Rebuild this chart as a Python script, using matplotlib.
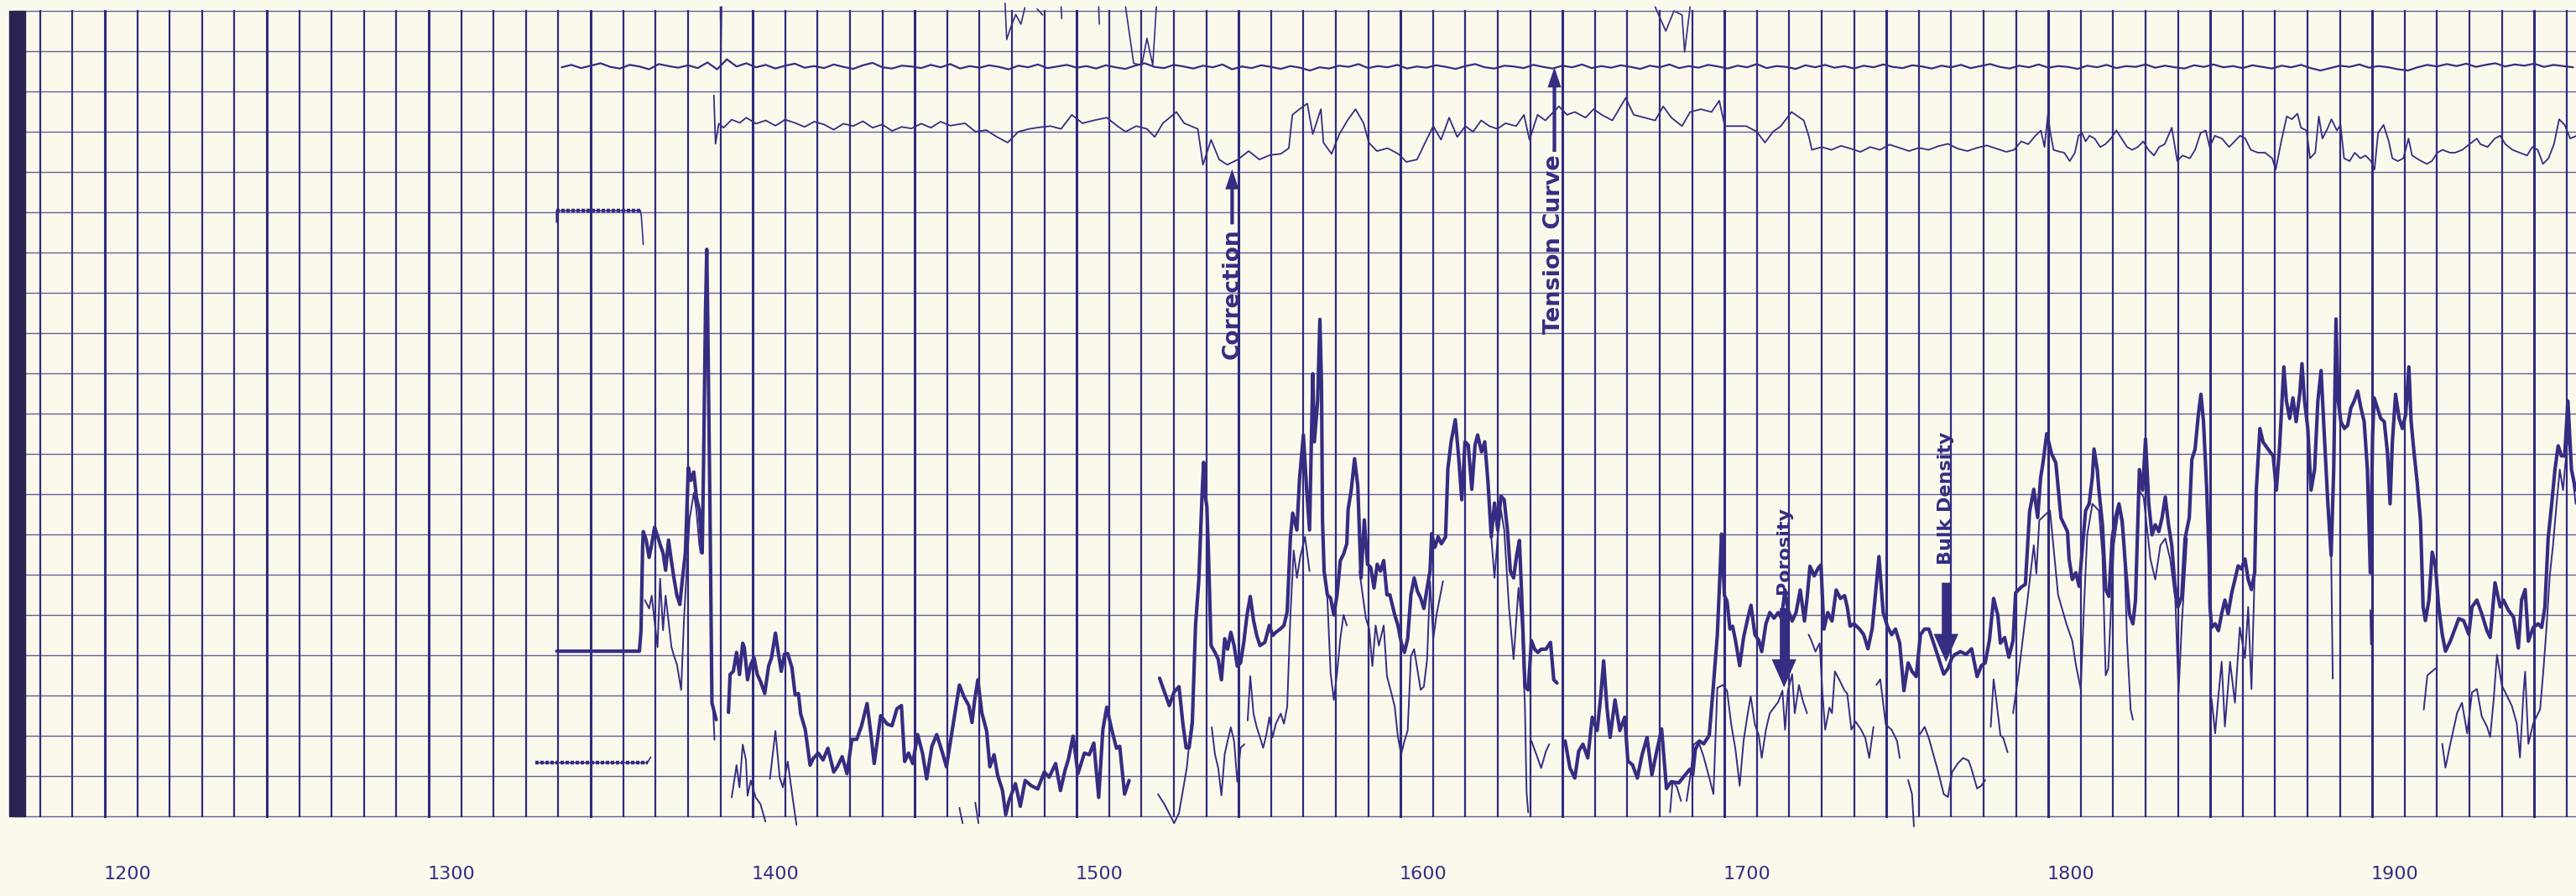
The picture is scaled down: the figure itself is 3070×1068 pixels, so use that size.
import numpy as np
import matplotlib
matplotlib.use('agg')
import matplotlib.pyplot as plt

# log chart: depth along x, 20 chart divisions up the y axis
PAPER = '#fbf9ec'
INK = '#352d82'
GRID = '#2f2b7d'

depth_labels = [1200, 1300, 1400, 1500, 1600, 1700, 1800, 1900]

# tension curve, one reading every 3 depth units from 1341
tension_start = 1341
tension_step = 3
tension = [
    18.60, 18.66, 18.58, 18.64, 18.70, 18.61, 18.57, 18.66, 18.62, 18.55, 18.68, 18.63, 18.59,
    18.65, 18.58, 18.72, 18.55, 18.80, 18.62, 18.70, 18.60, 18.66, 18.57, 18.64, 18.69, 18.59,
    18.63, 18.58, 18.67, 18.61, 18.56, 18.65, 18.71, 18.60, 18.57, 18.64, 18.62, 18.58, 18.66,
    18.60, 18.68, 18.57, 18.63, 18.59, 18.65, 18.61, 18.55, 18.64, 18.60, 18.67, 18.58, 18.62,
    18.66, 18.59, 18.63, 18.57, 18.65, 18.60, 18.56, 18.64, 18.70, 18.61, 18.58, 18.66, 18.62,
    18.57, 18.64, 18.60, 18.67, 18.55, 18.62, 18.58, 18.65, 18.61, 18.56, 18.63, 18.59, 18.52,
    18.60, 18.57, 18.64, 18.61, 18.68, 18.58, 18.63, 18.60, 18.66, 18.57, 18.62, 18.59, 18.65,
    18.61, 18.56, 18.63, 18.68, 18.60, 18.57, 18.64, 18.62, 18.58, 18.66, 18.61, 18.57, 18.64,
    18.60, 18.67, 18.58, 18.63, 18.59, 18.65, 18.61, 18.56, 18.64, 18.60, 18.67, 18.58, 18.63,
    18.59, 18.66, 18.62, 18.57, 18.64, 18.60, 18.68, 18.58, 18.63, 18.61, 18.56, 18.65, 18.60,
    18.66, 18.59, 18.63, 18.57, 18.64, 18.60, 18.67, 18.61, 18.58, 18.65, 18.62, 18.57, 18.64,
    18.60, 18.66, 18.58, 18.63, 18.68, 18.61, 18.57, 18.64, 18.60, 18.67, 18.59, 18.63, 18.61,
    18.56, 18.64, 18.60, 18.66, 18.58, 18.63, 18.61, 18.67, 18.59, 18.64, 18.60, 18.57, 18.65,
    18.61, 18.67, 18.60, 18.63, 18.58, 18.65, 18.61, 18.57, 18.64, 18.60, 18.66, 18.58, 18.52,
    18.58, 18.64, 18.61, 18.67, 18.59, 18.63, 18.60, 18.55, 18.52, 18.60, 18.66, 18.62, 18.68,
    18.63, 18.69, 18.61, 18.66, 18.70, 18.62, 18.67, 18.64, 18.69, 18.61, 18.66, 18.63, 18.60,
]

# correction curve (depth, division)
correction = [
    (1388.0, 17.9), (1388.5, 16.7), (1389.5, 17.2), (1391, 17.1), (1393.5, 17.3), (1396, 17.22),
    (1398, 17.35), (1401, 17.2), (1404, 17.28), (1407, 17.15), (1410, 17.3), (1413, 17.22),
    (1416, 17.12), (1419, 17.25), (1422, 17.18), (1425, 17.05), (1428, 17.2), (1431, 17.14),
    (1434, 17.26), (1437, 17.1), (1440, 17.18), (1443, 17.02), (1446, 17.12), (1449, 17.08),
    (1452, 17.2), (1455, 17.1), (1458, 17.25), (1461, 17.15),
    (1465.5, 17.21), (1468.8, 17.0), (1472.1, 17.04), (1475.4, 16.87), (1478.7, 16.73),
    (1482.0, 17.0), (1485.3, 17.07), (1488.6, 17.11), (1491.9, 17.14), (1495.2, 17.07),
    (1498.5, 17.42), (1501.8, 17.21), (1505.2, 17.28), (1509.3, 17.35), (1512.6, 17.14),
    (1515.1, 17.0), (1518.4, 17.14), (1521.7, 17.07), (1524.1, 16.87), (1526.6, 17.21),
    (1530.8, 17.49), (1533.2, 17.21), (1537.4, 17.07), (1539.0, 16.18), (1541.5, 16.8),
    (1544.0, 16.31), (1546.5, 16.18), (1549.8, 16.31), (1553.1, 16.52), (1556.4, 16.31),
    (1559.7, 16.42), (1563.0, 16.45), (1565.5, 16.59), (1566.6, 17.42), (1568.8, 17.56),
    (1571.2, 17.7), (1572.9, 16.94), (1575.4, 17.56), (1576.2, 16.73), (1578.7, 16.45),
    (1581.1, 16.94), (1583.6, 17.28), (1586.1, 17.56), (1588.6, 17.21), (1590.2, 16.73),
    (1592.7, 16.52), (1596.0, 16.59), (1599.3, 16.45), (1601.8, 16.25), (1605.1, 16.31),
    (1607.6, 16.73), (1610.1, 17.14), (1612.5, 16.8), (1615.0, 17.35), (1617.5, 16.87),
    (1620.0, 17.14), (1622.4, 17.0), (1624.9, 17.28), (1627.4, 17.14), (1629.9, 17.07),
    (1632.4, 17.21), (1635.7, 17.14), (1638.1, 17.42), (1639.8, 16.8), (1642.3, 17.42),
    (1644.7, 17.28), (1647.2, 17.49), (1648.9, 17.63), (1651.4, 17.42), (1653.8, 17.49),
    (1657.1, 17.35), (1659.6, 17.56), (1662.1, 17.42), (1665.4, 17.28), (1669.5, 17.84),
    (1672.0, 17.42), (1675.3, 17.35), (1678.6, 17.28), (1681.1, 17.63), (1683.6, 17.35),
    (1686.9, 17.14), (1689.4, 17.49), (1692.7, 17.56), (1696.0, 17.49), (1698.4, 17.77),
    (1700.1, 17.14), (1703.4, 17.14), (1706.7, 17.14), (1710.0, 17.0), (1712.5, 16.73),
    (1715.0, 17.0), (1717.4, 17.14), (1720.7, 17.49), (1724.5, 17.28), (1726, 16.9),
    (1727, 16.55), (1730, 16.62), (1733, 16.55), (1736, 16.65), (1739, 16.58), (1742, 16.5),
    (1745, 16.62), (1748, 16.55), (1751, 16.68), (1754, 16.6), (1757, 16.52), (1760, 16.6),
    (1763, 16.55), (1766, 16.64), (1769, 16.7), (1772, 16.58), (1775, 16.52), (1778, 16.6),
    (1781, 16.66), (1784, 16.58), (1787, 16.5),
    (1789.4, 16.55), (1791.6, 16.76), (1793.8, 16.69), (1796.0, 16.9), (1797.7, 17.03),
    (1798.8, 16.62), (1799.9, 17.45), (1800.5, 17.03), (1801.6, 16.55), (1803.2, 16.51),
    (1804.9, 16.48), (1806.6, 16.27), (1808.2, 16.48), (1809.3, 16.9), (1810.4, 16.97),
    (1811.5, 16.76), (1812.7, 16.9), (1814.3, 16.83), (1816.0, 16.62), (1817.6, 16.69),
    (1819.3, 16.83), (1821.0, 17.03), (1822.6, 16.83), (1824.3, 16.62), (1825.9, 16.55),
    (1827.6, 16.62), (1829.3, 16.76), (1830.9, 16.55), (1832.6, 16.41), (1834.2, 16.62),
    (1835.9, 16.69), (1838.1, 17.1), (1839.8, 16.27), (1841.4, 16.41), (1843.7, 16.34),
    (1845.3, 16.55), (1847.0, 16.97), (1848.6, 17.03), (1849.8, 16.62), (1851.4, 16.9),
    (1853.6, 16.83), (1855.8, 16.62), (1857.5, 16.76), (1859.2, 16.9), (1860.8, 16.83),
    (1862.5, 16.55), (1864.7, 16.48), (1866.9, 16.48), (1869.1, 16.34), (1870.2, 16.06),
    (1871.9, 16.76), (1873.6, 17.38), (1875.2, 17.31), (1876.9, 17.45), (1878.0, 17.1),
    (1879.7, 17.03), (1880.8, 16.34), (1882.4, 16.48), (1883.5, 17.38), (1884.6, 16.83),
    (1886.3, 17.1), (1887.4, 17.31), (1889.1, 17.03), (1890.2, 17.17), (1891.3, 16.34),
    (1893.0, 16.27), (1894.6, 16.48), (1896.3, 16.34), (1897.9, 16.41), (1899.6, 16.27),
    (1900.7, 16.06), (1901.8, 16.97), (1903.5, 17.17), (1905.1, 16.76), (1906.2, 16.34),
    (1907.9, 16.27), (1909.6, 16.34), (1911.2, 16.83), (1912.3, 16.41), (1914.5, 16.3),
    (1916.8, 16.2), (1918.4, 16.27), (1920.1, 16.48), (1921.7, 16.55), (1924.0, 16.48),
    (1925.6, 16.48), (1927.8, 16.55), (1930.0, 16.69), (1932.3, 16.83), (1933.4, 16.69),
    (1935.6, 16.62), (1937.8, 16.83), (1939.5, 16.9), (1941.1, 16.69), (1943.3, 16.55),
    (1945.5, 16.48), (1947.8, 16.41), (1949.4, 16.62), (1951.1, 16.55), (1952.7, 16.2),
    (1954.4, 16.34), (1956.1, 16.69), (1957.7, 17.31), (1959.4, 17.17), (1961.1, 16.83),
    (1963.1, 16.9),
]

# pen running off the top of the chart
offscale = [
    (1390.0, 20.1), (1390.2, 18.96), (1390.4, 20.1), (None, None),
    (1477.9, 20.19), (1478.4, 19.29), (1479.5, 19.56), (1481.2, 19.91), (1482.8, 19.67),
    (1484.0, 20.08), (None, None),
    (1487.8, 20.05), (1489.5, 19.9), (None, None),
    (1495.2, 20.1), (1495.4, 19.81), (None, None),
    (1506.8, 20.1), (1507.0, 19.67), (None, None),
    (1515.1, 20.1), (1517.6, 18.7), (1520.1, 18.65), (1521.7, 19.32), (1523.5, 18.65),
    (1524.6, 20.1), (None, None),
    (1678.6, 20.1), (1681.9, 19.5), (1684.4, 20.0), (1686.9, 19.9), (1687.7, 18.98),
    (1689.4, 20.1),
]

# calibration steps at the head of the log
cal_upper = [(1339.4, 14.75), (1339.4, 15.04), (1365.3, 15.04), (1365.6, 14.9), (1366.2, 14.2)]
cal_lower = [(1333.0, 1.33), (1367.5, 1.33), (1368.5, 1.47)]

bulk_density = [
    (1339.5, 4.1), (1365.0, 4.1), (1365.5, 4.6), (1366.0, 6.7),
    (1366.2, 7.07), (1367.1, 6.86), (1368.0, 6.43), (1368.8, 6.75), (1369.7, 7.18), (1370.6, 6.96),
    (1371.4, 6.75), (1372.3, 6.54), (1373.1, 6.11), (1374.0, 6.86), (1374.9, 6.33), (1375.7, 5.9),
    (1376.6, 5.48), (1377.5, 5.26), (1378.3, 5.9), (1379.2, 6.54), (1380.1, 8.66), (1380.9, 8.34),
    (1381.8, 8.55), (1382.6, 7.92), (1383.5, 7.6), (1384.4, 6.54), (1384.8, 8.66), (1385.4, 12.49),
    (1385.8, 14.08), (1386.1, 12.38), (1386.8, 7.6), (1387.4, 2.82), (1388.7, 2.4), (None, None),
    (1392.5, 2.58), (1393.0, 3.52), (1394.0, 3.6), (1395.0, 4.07), (1395.9, 3.52), (1396.9, 4.3),
    (1397.4, 4.19), (1398.4, 3.39), (1399.4, 3.77), (1400.4, 3.94), (1401.4, 3.52), (1402.4, 3.35),
    (1403.7, 3.05), (1404.9, 3.73), (1405.8, 3.94), (1407.0, 4.55), (1407.8, 4.11), (1408.8, 3.6),
    (1409.8, 4.03), (1410.8, 4.04), (1412.1, 3.69), (1413.1, 3.01), (1414.1, 3.05), (1414.8, 2.54),
    (1416.2, 2.16), (1417.7, 1.27), (1418.7, 1.44), (1420.2, 1.57), (1421.7, 1.4), (1423.2, 1.69),
    (1425.0, 1.1), (1426.1, 1.23), (1427.6, 1.48), (1429.1, 1.06), (1430.6, 1.91), (1432.1, 1.91),
    (1433.6, 2.25), (1435.3, 2.8), (1436.5, 2.03), (1437.5, 1.31), (1439.5, 2.5), (1441.5, 2.29),
    (1443.0, 2.25), (1444.5, 2.67), (1445.9, 2.75), (1446.9, 1.36), (1448.1, 1.57), (1449.4, 1.31),
    (1450.9, 2.03), (1452.4, 1.57), (1453.7, 0.93), (1455.3, 1.74), (1456.8, 2.03), (1458.6, 1.57),
    (1459.8, 1.23), (1461.3, 1.99), (1463.8, 3.26), (1465.2, 2.97), (1466.7, 2.75), (1467.7, 2.33),
    (1468.5, 2.88), (1469.5, 3.39), (1470.7, 2.58), (1472.2, 2.12), (1473.2, 1.23), (1474.5, 1.53),
    (1475.6, 1.02), (1477.1, 0.64), (1478.1, 0.04), (1479.1, 0.38), (1481.1, 0.81), (1482.6, 0.25),
    (1484.1, 0.89), (1486.0, 0.76), (1488.0, 0.68), (1490.0, 1.1), (1491.5, 0.97), (1493.5, 1.31),
    (1495.0, 0.64), (1496.4, 1.14), (1497.4, 1.4), (1498.9, 1.99), (1500.4, 1.06), (1502.4, 1.57),
    (1503.9, 1.53), (1505.3, 1.82), (1506.8, 0.47), (1508.1, 2.16), (1509.3, 2.71), (1510.8, 2.16),
    (1512.3, 1.69), (1513.3, 1.74), (1514.8, 0.55), (1516.2, 0.89), (None, None),
    (1525.6, 3.43), (1527.1, 3.09), (1528.6, 2.75), (1530.1, 3.09), (1531.6, 3.22),
    (1532.8, 2.3), (1533.8, 1.7), (1534.7, 1.7), (1535.7, 2.3), (1536.7, 4.74), (1537.7, 5.84),
    (1538.7, 7.95), (1539.2, 8.79), (1539.7, 7.95), (1540.2, 7.7), (1540.7, 6.51), (1541.5, 4.24),
    (1542.7, 4.07), (1543.7, 3.9), (1544.7, 3.39), (1545.7, 4.41), (1546.6, 4.15), (1547.6, 4.57),
    (1548.6, 4.24), (1549.6, 3.73), (1550.6, 3.81), (1551.6, 4.32), (1552.6, 5.0), (1553.6, 5.46),
    (1554.6, 4.87), (1555.6, 4.49), (1556.6, 4.24), (1558.1, 4.32), (1559.5, 4.74), (1560.5, 4.49),
    (1561.5, 4.57), (1563.0, 4.66), (1564.0, 4.74), (1565.0, 5.08), (1566.0, 6.94), (1566.7, 7.53),
    (1568.0, 7.11), (1568.8, 8.37), (1570.0, 9.47), (1571.0, 8.12), (1571.9, 7.11), (1572.9, 10.99),
    (1573.4, 9.3), (1574.4, 10.31), (1575.1, 12.34), (1575.6, 10.73), (1575.9, 7.36), (1576.4, 6.09),
    (1577.4, 5.5), (1578.4, 5.42), (1579.4, 5.0), (1580.4, 5.5), (1581.4, 6.35), (1582.4, 6.51),
    (1583.4, 6.77), (1583.8, 7.61), (1584.8, 8.12), (1585.8, 8.88), (1586.8, 8.2), (1587.8, 5.92),
    (1588.8, 7.36), (1589.8, 6.26), (1590.8, 6.18), (1591.8, 5.67), (1592.8, 6.26), (1593.8, 6.09),
    (1594.8, 6.35), (1595.8, 5.5), (1596.7, 5.5), (1598.2, 5.0), (1599.2, 4.74), (1600.2, 4.32),
    (1601.2, 4.07), (1602.2, 4.41), (1603.2, 5.5), (1604.2, 5.92), (1605.2, 5.59), (1606.2, 5.42),
    (1607.2, 5.16), (1608.2, 5.67), (1609.1, 6.09), (1609.6, 7.02), (1610.6, 6.68), (1611.6, 6.94),
    (1612.6, 6.77), (1613.9, 6.94), (1614.6, 8.62), (1615.6, 9.3), (1616.9, 9.85), (1617.9, 8.96),
    (1618.9, 7.86), (1619.9, 9.3), (1620.9, 9.22), (1622.0, 8.12), (1623.0, 9.22), (1623.8, 9.47),
    (1625.0, 9.05), (1626.0, 9.3), (1627.0, 8.29), (1628.0, 6.94), (1629.0, 7.78), (1630.0, 7.11),
    (1631.0, 7.95), (1632.0, 7.86), (1633.0, 7.11), (1633.9, 6.09), (1634.9, 5.92), (1635.9, 6.51),
    (1636.7, 6.85), (1637.4, 5.5), (1638.4, 3.22), (1639.4, 3.14), (1640.4, 4.36), (1641.4, 4.15),
    (1642.4, 4.07), (1643.4, 4.15), (1644.9, 4.15), (1646.3, 4.32), (1647.3, 3.39), (1648.3, 3.31),
    (None, None),
    (1650.8, 1.87), (1652.3, 1.2), (1653.8, 0.95), (1655.0, 1.62), (1656.3, 1.79), (1657.8, 1.45),
    (1659.2, 2.46), (1660.7, 2.13), (1661.7, 2.89), (1662.7, 3.86), (1663.7, 2.72), (1664.7, 1.96),
    (1666.2, 2.89), (1667.7, 2.13), (1669.2, 2.46), (1670.2, 1.37), (1671.6, 1.28), (1673.1, 0.95),
    (1674.6, 1.54), (1676.1, 1.96), (1677.6, 1.03), (1679.1, 1.62), (1680.6, 2.17), (1682.1, 0.69),
    (1683.6, 0.86), (1685.9, 0.83), (1689.3, 1.17), (1690.2, 1.03), (1691.0, 1.66), (1692.3, 1.87),
    (1693.6, 1.8), (1695.3, 2.01), (1696.6, 3.26), (1697.8, 4.51), (1698.7, 6.17), (1699.1, 7.01),
    (1700.0, 5.48), (1700.8, 5.34), (1701.7, 4.65), (1702.5, 4.72), (1703.4, 4.37), (1704.7, 3.74),
    (1705.9, 4.44), (1707.2, 4.92), (1708.2, 5.24), (1709.4, 4.51), (1710.6, 4.37), (1711.5, 4.09),
    (1712.8, 4.78), (1714.0, 5.06), (1715.3, 4.92), (1716.6, 5.06), (1717.6, 4.92), (1718.7, 5.62),
    (1719.6, 5.13), (1720.9, 4.85), (1722.1, 5.06), (1723.4, 5.62), (1724.7, 4.85), (1725.5, 5.41),
    (1726.4, 6.21), (1727.7, 5.97), (1729.0, 6.17), (1729.8, 6.24), (1730.7, 4.65), (1731.9, 5.06),
    (1733.2, 4.85), (1734.5, 5.62), (1735.8, 5.41), (1737.1, 5.48), (1737.9, 5.2), (1738.8, 4.72),
    (1740.0, 4.78), (1741.7, 4.65), (1743.0, 4.51), (1744.3, 4.16), (1745.6, 4.65), (1746.4, 5.34),
    (1747.7, 6.45), (1749.0, 5.06), (1750.3, 4.72), (1751.6, 4.51), (1752.8, 4.65), (1754.1, 4.3),
    (1755.4, 3.12), (1756.7, 3.81), (1757.9, 3.6), (1759.2, 3.47), (1760.5, 4.51), (1761.8, 4.65),
    (1763.1, 4.65), (1764.3, 4.37), (1766.0, 3.95), (1767.7, 3.53), (1769.0, 3.67), (1770.3, 3.95),
    (1771.2, 4.02), (1772.9, 4.09), (1774.6, 4.02), (1776.3, 4.16), (1778.0, 3.47), (1779.3, 3.74),
    (1780.5, 3.81), (1781.8, 4.37), (1783.1, 5.41), (1784.4, 4.99), (1785.2, 4.3), (1786.5, 4.44),
    (1787.8, 3.95), (1789.1, 4.37), (1789.9, 5.55), (1791.6, 5.69), (1792.9, 5.76), (1794.2, 7.56),
    (1795.5, 8.12), (1796.7, 7.42), (1797.6, 8.4), (1798.4, 8.81), (1799.5, 9.5), (1801.0, 9.0),
    (1802.3, 8.78), (1803.1, 8.1), (1803.9, 7.41), (1804.9, 7.24), (1805.9, 7.07), (1806.4, 6.39),
    (1807.4, 5.88), (1808.5, 6.05), (1809.5, 5.71), (1811.5, 7.59), (1812.6, 7.76), (1813.6, 8.44),
    (1814.1, 9.12), (1815.1, 8.61), (1815.6, 8.1), (1816.7, 7.24), (1817.7, 5.63), (1818.7, 5.46),
    (1819.7, 6.9), (1820.7, 7.41), (1821.8, 7.76), (1822.8, 7.33), (1823.8, 6.22), (1825.0, 5.03),
    (1826.1, 4.78), (1826.9, 5.37), (1828.1, 8.61), (1829.1, 8.1), (1830.0, 9.37), (1831.0, 7.76),
    (1832.0, 6.99), (1833.0, 7.24), (1834.1, 7.07), (1835.1, 7.41), (1836.1, 7.93), (1837.1, 7.24),
    (1838.1, 6.73), (1839.0, 5.8), (1840.0, 5.2), (1841.2, 5.46), (1842.2, 6.9), (1843.5, 7.41),
    (1844.3, 8.86), (1845.3, 9.12), (1846.3, 9.97), (1847.1, 10.48), (1847.9, 9.8), (1848.9, 8.1),
    (1849.6, 6.48), (1849.9, 5.2), (1850.4, 4.69), (1851.5, 4.78), (1852.5, 4.61), (1853.5, 5.03),
    (1854.5, 5.37), (1855.5, 5.03), (1856.6, 5.54), (1857.6, 5.88), (1858.6, 6.22), (1859.6, 6.14),
    (1860.7, 6.39), (1861.7, 5.88), (1862.7, 5.63), (1863.7, 6.05), (1864.2, 8.1), (1865.3, 9.63),
    (1866.3, 9.29), (1867.8, 9.12), (1869.4, 8.95), (1870.4, 8.1), (1871.4, 9.2), (1872.7, 11.16),
    (1873.5, 10.31), (1874.5, 9.88), (1875.5, 10.39), (1876.5, 9.8), (1877.6, 10.48), (1878.3, 11.24),
    (1879.1, 10.31), (1880.1, 9.63), (1881.1, 8.1), (1882.2, 8.61), (1883.2, 10.31), (1884.2, 11.07),
    (1885.2, 9.46), (1886.3, 7.76), (1887.3, 6.48), (1888.1, 8.61), (1888.8, 12.35), (1889.5, 10.31),
    (1890.3, 9.8), (1891.4, 9.63), (1892.4, 9.71), (1893.4, 10.14), (1894.4, 10.31), (1895.5, 10.56),
    (1896.5, 10.14), (1897.5, 9.8), (1898.5, 8.61), (1899.4, 6.05), (1900.1, 9.46), (1900.6, 10.39),
    (1901.6, 10.14), (1902.6, 9.88), (1903.7, 9.8), (1904.7, 9.03), (1905.5, 7.76), (1906.2, 9.29),
    (1907.2, 10.48), (1908.3, 9.88), (1909.3, 9.63), (1910.3, 9.97), (1911.3, 11.16), (1912.0, 9.8),
    (1912.9, 9.03), (1913.9, 8.27), (1914.9, 7.33), (1915.7, 5.2), (1916.4, 4.86), (1917.5, 5.37),
    (1918.5, 6.56), (1919.5, 6.22), (1920.5, 5.2), (1921.6, 4.52), (1922.6, 4.1), (1924.1, 4.35),
    (1925.7, 4.69), (1926.7, 4.91), (1928.2, 4.86), (1929.8, 4.52), (1930.8, 5.2), (1932.3, 5.37),
    (1933.8, 5.03), (1935.4, 4.61), (1936.4, 4.44), (1937.9, 5.8), (1939.5, 5.2), (1940.5, 5.37),
    (1942.0, 5.12), (1943.6, 4.95), (1945.1, 4.18), (1946.1, 5.37), (1947.2, 5.63), (1948.2, 4.35),
    (1949.7, 4.69), (1951.2, 4.78), (1952.3, 4.69), (1953.3, 5.2), (1954.3, 6.9), (1955.4, 7.76),
    (1956.4, 8.61), (1957.4, 9.2), (1958.4, 8.95), (1959.4, 8.95), (1960.4, 10.31), (1961.5, 8.61),
    (1962.8, 8.1),
]

porosity = [
    (1366.7, 5.37), (1368.0, 5.16), (1368.8, 5.48), (1369.7, 4.84), (1370.6, 4.2), (1371.4, 5.9),
    (1372.3, 4.62), (1373.1, 5.48), (1374.0, 4.84), (1374.9, 4.2), (1375.7, 3.98), (1376.6, 3.77),
    (1377.9, 3.14), (1378.8, 4.94), (1379.6, 6.11), (1380.5, 7.39), (1381.8, 8.03), (1382.6, 7.6),
    (1383.5, 6.75), (1383.9, 6.54), (None, None),
    (1387.8, 2.6), (1388.2, 1.9), (None, None),
    (1393.5, 0.47), (1395.0, 1.27), (1395.9, 0.72), (1396.9, 1.78), (1397.9, 1.4), (1398.4, 0.51),
    (1399.4, 0.89), (1400.9, 0.47), (1402.4, 0.3), (1403.9, -0.13), (None, None),
    (1405.3, 0.93), (1407.0, 2.12), (1408.3, 0.97), (1409.3, 0.72), (1410.8, 1.36), (1412.3, 0.47),
    (1413.5, -0.21), (None, None),
    (1463.8, 0.21), (1464.8, -0.17), (None, None),
    (1468.7, 0.34), (1469.7, -0.17), (None, None),
    (1525.1, 0.55), (1527.1, 0.3), (1530.1, -0.17), (1531.6, 0.08), (1534.0, 1.2), (1536.0, 2.8),
    (None, None),
    (1541.7, 2.21), (1542.7, 1.54), (1543.7, 1.2), (1544.7, 0.52), (1545.7, 1.54), (1546.6, 1.87),
    (1547.6, 2.21), (1548.6, 1.87), (1549.6, 0.86), (1550.6, 1.7), (1551.8, 1.79), (None, None),
    (1552.8, 2.38), (1553.6, 3.48), (1554.6, 2.55), (1555.6, 2.21), (1556.6, 1.96), (1557.6, 1.7),
    (1558.6, 2.04), (1559.5, 2.46), (1560.5, 1.96), (1561.5, 2.3), (1563.0, 2.55), (1564.0, 2.3),
    (1565.0, 2.72), (1566.0, 5.0), (1567.0, 6.6), (1568.0, 5.92), (1569.0, 6.43), (1570.5, 6.94),
    (1571.9, 6.09), (None, None),
    (1576.4, 6.09), (1577.4, 5.42), (1578.4, 3.56), (1579.4, 2.89), (1580.4, 3.56), (1581.4, 4.41),
    (1582.4, 5.0), (1583.4, 4.74), (None, None),
    (1587.3, 6.09), (1588.3, 5.5), (1589.3, 4.91), (1590.3, 4.66), (1591.3, 3.73), (1592.3, 4.74),
    (1593.3, 4.24), (1594.8, 4.74), (1595.8, 3.48), (1597.2, 3.05), (1598.2, 2.72), (1599.2, 1.96),
    (1600.2, 1.54), (1601.2, 1.87), (1602.2, 2.13), (1603.2, 3.98), (1604.2, 4.15), (1605.2, 3.65),
    (1606.2, 3.14), (1607.2, 3.22), (1608.2, 3.9), (1609.1, 5.84), (1610.1, 4.41), (1611.1, 5.0),
    (1612.1, 5.42), (1613.1, 5.84), (None, None),
    (1628.0, 6.94), (1629.0, 5.92), (1630.0, 6.94), (1631.0, 7.61), (1632.0, 7.11), (1633.5, 5.16),
    (1634.9, 3.9), (1636.4, 5.67), (1637.4, 4.83), (1638.4, 2.72), (1638.9, 0.61), (1639.4, 0.1),
    (None, None),
    (1640.4, 1.87), (1641.9, 1.54), (1643.4, 1.2), (1644.9, 1.62), (1645.9, 1.79), (None, None),
    (1683.2, 0.1), (1684.0, 0.87), (1685.3, 0.73), (1686.6, 0.38), (None, None),
    (1688.3, 0.38), (1689.6, 1.08), (1690.5, 1.78), (1691.9, 1.87), (1693.5, 1.5), (1695.5, 0.9),
    (1696.6, 0.55), (1697.8, 3.19), (1699.5, 3.26), (1700.8, 3.12), (1702.1, 2.28), (1703.4, 1.66),
    (1704.7, 0.76), (1705.9, 1.87), (1707.2, 2.56), (1708.1, 2.98), (1709.4, 2.28), (1710.6, 2.01),
    (1711.5, 1.45), (1712.8, 2.15), (1714.0, 2.56), (1715.3, 2.7), (1716.6, 2.84), (1717.9, 3.12),
    (1718.7, 2.15), (1719.6, 3.12), (1720.9, 3.53), (1721.7, 2.56), (1723.0, 3.26), (1724.3, 2.84),
    (1725.5, 2.56), (None, None),
    (1726.0, 4.51), (1726.8, 4.37), (1728.1, 4.09), (1729.4, 4.3), (1730.2, 3.12), (1731.1, 2.15),
    (1732.4, 2.7), (1733.2, 2.56), (1734.1, 3.6), (1735.4, 3.4), (1737.1, 3.12), (1737.9, 3.05),
    (1739.2, 2.15), (1740.5, 2.35), (1742.2, 2.15), (1743.5, 1.94), (1744.7, 1.45), (1746.0, 2.22),
    (None, None),
    (1746.9, 3.26), (1748.1, 3.4), (1749.8, 2.28), (1751.6, 2.15), (1753.3, 1.87), (1754.1, 1.45),
    (None, None),
    (1756.7, 0.9), (1757.9, 0.55), (1758.5, -0.25), (None, None),
    (1760.1, 2.01), (1761.8, 2.22), (1763.1, 1.94), (1764.3, 1.59), (1766.0, 1.1), (1767.7, 0.55),
    (1769.0, 0.48), (1770.3, 1.1), (1772.0, 1.31), (1773.7, 1.45), (1775.4, 1.38), (1776.3, 1.17),
    (1778.0, 0.69), (1779.3, 0.76), (1780.5, 0.9), (None, None),
    (1782.2, 2.22), (1783.1, 3.4), (1783.9, 2.91), (1785.2, 2.01), (1786.1, 1.94), (1787.4, 1.59),
    (None, None),
    (1789.1, 2.56), (1790.8, 3.53), (1793.3, 5.2), (1795.5, 6.73), (1796.3, 6.03), (1797.2, 7.35),
    (1800.5, 7.6), (1803.0, 5.5), (1805.5, 4.8), (1807.4, 4.35), (1808.5, 3.76), (1810.0, 3.16),
    (1811.0, 5.2), (1812.0, 6.99), (1813.6, 7.76), (1815.6, 7.59), (1816.7, 6.48), (1817.7, 3.5),
    (1818.5, 3.67), (1820.2, 6.73), (1821.8, 7.67), (1823.3, 6.9), (1824.3, 4.35), (1825.4, 2.65),
    (1826.1, 2.4), (None, None),
    (1827.9, 8.1), (1829.4, 7.93), (1831.5, 6.39), (1833.0, 5.88), (1834.6, 6.73), (1836.1, 6.9),
    (1837.6, 6.39), (1839.2, 5.37), (1840.2, 3.08), (1841.2, 4.78), (1842.8, 6.9), (None, None),
    (1850.4, 2.91), (1851.5, 2.06), (1852.5, 2.99), (1853.5, 3.84), (1854.5, 2.23), (1856.1, 3.84),
    (1857.6, 2.82), (1859.1, 4.69), (1860.7, 3.93), (1861.7, 5.2), (1862.7, 3.16), (1863.7, 6.05),
    (None, None),
    (1887.3, 6.56), (1887.8, 3.42), (None, None),
    (1899.4, 5.12), (1899.6, 4.27), (None, None),
    (1915.9, 2.65), (1917.0, 3.5), (1919.5, 3.67), (None, None),
    (1921.6, 1.8), (1922.6, 1.21), (1924.1, 1.8), (1926.2, 2.57), (1927.7, 2.82), (1929.3, 2.06),
    (1930.8, 3.08), (1932.3, 3.16), (1933.8, 2.48), (1935.4, 2.23), (1936.4, 1.97), (1937.4, 2.82),
    (1938.5, 4.01), (1940.0, 3.25), (1941.6, 2.99), (1943.1, 2.74), (1944.6, 2.31), (1945.6, 1.46),
    (1946.7, 3.08), (1947.2, 3.59), (1948.2, 1.8), (1949.7, 2.31), (1951.8, 2.65), (1952.8, 3.59),
    (1953.8, 4.69), (1954.8, 5.97), (1955.8, 6.73), (1956.9, 7.76), (1957.9, 8.61), (1958.9, 8.1),
    (1960.4, 9.46), (1962.8, 7.76),
]

# labelled arrows: (text, depth, text centre, arrow tail, arrow tip, font size)
labels_up = [('Correction', 1548.0, 12.97, 14.7, 16.07, 19),
             ('Tension Curve', 1647.5, 14.2, 16.5, 18.6, 19.5)]
labels_down = [('Porosity', 1718.4, 6.6, 5.17, 3.2, 16),
               ('Bulk Density', 1768.4, 7.9, 5.8, 3.83, 16)]


def xy(points):
    a = np.array(points, dtype=float)
    return a[:, 0], a[:, 1]


fig = plt.figure(figsize=(30.7, 10.68), dpi=100, facecolor=PAPER)
ax = fig.add_axes([0, 0, 1, 1])
ax.set_facecolor(PAPER)
ax.set_axis_off()
ax.set_xlim(1167.6, 1962.9)
ax.set_ylim(-1.979, 20.271)

# chart paper
for d in range(1180, 1961, 10):
    ax.plot([d, d], [0, 20], color=GRID, lw=2.2 if d % 50 == 0 else 1.6, zorder=1)
for k in range(21):
    ax.plot([1172, 1963], [k, k], color=GRID, lw=1.0, alpha=0.75, zorder=1)
ax.fill_between([1170.4, 1175.4], 0, 20, color='#2b2452', zorder=2)

for d in depth_labels:
    ax.text(d - 0.5, -1.44, str(d), ha='left', va='center', fontsize=16,
            color=INK, family='DejaVu Sans')

# traces
kw = dict(color=INK, solid_joinstyle='round', solid_capstyle='round', zorder=3, clip_on=False)
t_depth = tension_start + tension_step * np.arange(len(tension))
ax.plot(t_depth, tension, lw=1.6, **kw)
ax.plot(*xy(correction), lw=1.3, **kw)
ax.plot(*xy(offscale), lw=1.2, **kw)
ax.plot(*xy(porosity), lw=1.4, **kw)
ax.plot(*xy(bulk_density), lw=3.0, **kw)

for cal in (cal_upper, cal_lower):
    ax.plot(*xy(cal), lw=1.2, **kw)
    ax.plot(*xy(cal[1:3] if cal is cal_upper else cal[:2]), lw=3.2, color=INK,
            dashes=(0.9, 0.45), zorder=3)

for text, d, yc, tail, tip, size in labels_up:
    ax.arrow(d, tail, 0, tip - tail, width=1.1, head_width=4.2, head_length=0.5,
             length_includes_head=True, color=INK, lw=0, zorder=4)
    ax.text(d, yc, text, rotation=90, ha='center', va='center', fontsize=size,
            fontweight='bold', color=INK, family='DejaVu Sans', zorder=4)

for text, d, yc, tail, tip, size in labels_down:
    ax.arrow(d, tail, 0, tip - tail, width=2.6, head_width=7.6, head_length=0.7,
             length_includes_head=True, color=INK, lw=0, zorder=4)
    ax.text(d, yc, text, rotation=90, ha='center', va='center', fontsize=size,
            fontweight='bold', color=INK, family='DejaVu Sans', zorder=4)

fig.savefig('out.png', dpi=100, facecolor=PAPER)
